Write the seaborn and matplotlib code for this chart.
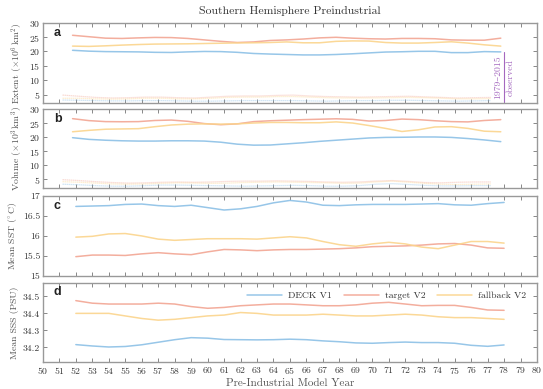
import numpy as np
import pandas as pd
import matplotlib
matplotlib.use("Agg")
import matplotlib.pyplot as plt
import seaborn as sns

# ---------------- data ----------------
runs = ["DECK V1", "target V2", "fallback V2"]
colors = {"DECK V1": "#8cc0e6", "target V2": "#f2a593", "fallback V2": "#fbd48c"}

years_cd = np.arange(52, 79)              # panels c, d
years_ab = np.arange(51.8, 78.0, 1.0)      # panels a, b solid lines
years_ab_min = np.arange(51.2, 77.4, 1.0)  # panels a, b dotted (minimum) lines

ext_deck = [20.4, 20.1, 19.95, 19.9, 19.85, 19.7, 19.65, 19.85, 20.0, 19.95, 19.7, 19.3, 19.1, 18.95,
            18.8, 18.8, 18.95, 19.2, 19.5, 19.8, 19.9, 20.05, 20.05, 19.6, 19.6, 19.95, 19.85]
ext_target = [25.6, 25.1, 24.6, 24.5, 24.7, 24.85, 24.8, 24.5, 24.0, 23.5, 23.1, 23.3, 23.8, 24.0,
              24.3, 24.7, 24.9, 24.6, 24.4, 24.3, 24.5, 24.5, 24.4, 24.0, 23.9, 23.9, 24.6]
ext_fallback = [21.85, 21.75, 21.95, 22.2, 22.4, 22.55, 22.6, 22.65, 22.75, 22.85, 22.95, 23.0, 23.1, 23.3,
                23.0, 23.0, 23.5, 23.65, 23.6, 23.1, 22.9, 22.9, 23.1, 23.35, 22.9, 22.3, 21.85]
ext_min_deck = [3.2, 3.1, 3.0, 2.9, 2.9, 3.0, 3.0, 2.9, 2.8, 2.8, 2.9, 3.0, 3.0, 3.0,
                3.0, 2.9, 2.8, 2.9, 3.0, 3.0, 3.1, 3.1, 3.0, 2.9, 2.8, 2.9, 3.0]
ext_min_target = [4.9, 4.5, 4.1, 3.9, 4.0, 4.2, 4.2, 4.0, 3.9, 4.2, 4.5, 4.6, 4.6, 4.8,
                  4.9, 4.6, 4.4, 4.3, 4.2, 4.3, 4.4, 4.5, 4.3, 4.1, 3.9, 4.0, 4.1]
ext_min_fallback = [3.8, 3.8, 3.6, 3.5, 3.6, 3.8, 3.8, 3.6, 3.6, 3.8, 4.1, 4.2, 4.2, 4.4,
                    4.4, 4.2, 4.0, 3.9, 3.9, 3.9, 4.0, 4.1, 4.0, 3.8, 3.6, 3.6, 3.7]

vol_deck = [19.8, 19.2, 18.9, 18.7, 18.6, 18.6, 18.7, 18.7, 18.6, 18.2, 17.5, 17.15, 17.2, 17.6,
            18.0, 18.5, 18.9, 19.3, 19.7, 19.9, 19.95, 20.05, 20.05, 19.9, 19.5, 19.0, 18.4]
vol_target = [26.55, 25.85, 25.5, 25.45, 25.5, 25.9, 26.05, 25.6, 24.8, 24.4, 24.7, 25.5, 25.8, 26.0,
              26.2, 26.35, 26.5, 26.3, 25.7, 25.9, 26.4, 26.2, 25.8, 25.5, 25.4, 25.9, 26.2]
vol_fallback = [21.9, 22.4, 22.8, 22.9, 23.0, 23.7, 24.3, 24.6, 24.7, 24.6, 24.7, 25.0, 25.2, 25.2,
                25.1, 25.1, 25.4, 25.0, 24.1, 23.1, 22.0, 22.6, 23.6, 23.7, 23.1, 22.1, 21.9]
vol_min_deck = [3.3, 3.1, 2.8, 2.6, 2.6, 2.8, 3.0, 3.0, 2.9, 2.8, 2.7, 2.6, 2.7, 2.8,
                2.9, 2.8, 2.6, 2.6, 2.8, 3.3, 3.5, 3.2, 2.9, 2.7, 2.7, 2.8, 2.8]
vol_min_target = [4.9, 4.6, 4.2, 3.9, 3.7, 3.8, 4.0, 4.1, 4.0, 4.1, 4.3, 4.4, 4.4, 4.5,
                  4.4, 4.3, 4.1, 4.0, 4.1, 4.4, 4.6, 4.3, 3.9, 3.8, 4.0, 4.1, 4.1]
vol_min_fallback = [4.2, 4.0, 3.7, 3.4, 3.3, 3.4, 3.6, 3.8, 3.7, 3.6, 3.7, 3.9, 4.0, 4.1,
                    4.0, 3.9, 3.8, 3.6, 3.7, 4.1, 4.4, 4.0, 3.6, 3.3, 3.2, 3.3, 3.4]

sst_deck = [16.74, 16.75, 16.76, 16.79, 16.80, 16.76, 16.74, 16.77, 16.71, 16.65, 16.68, 16.74, 16.83, 16.89,
            16.85, 16.77, 16.76, 16.78, 16.79, 16.79, 16.79, 16.80, 16.81, 16.78, 16.77, 16.81, 16.84]
sst_target = [15.48, 15.52, 15.52, 15.51, 15.55, 15.58, 15.55, 15.53, 15.60, 15.66, 15.65, 15.63, 15.65, 15.66,
              15.66, 15.67, 15.68, 15.70, 15.73, 15.74, 15.75, 15.77, 15.80, 15.81, 15.77, 15.70, 15.69]
sst_fallback = [15.97, 15.99, 16.05, 16.06, 16.00, 15.92, 15.89, 15.91, 15.93, 15.93, 15.93, 15.92, 15.95, 15.98,
                15.95, 15.86, 15.78, 15.74, 15.80, 15.84, 15.80, 15.72, 15.68, 15.77, 15.86, 15.86, 15.82]

sss_deck = [34.216, 34.208, 34.202, 34.205, 34.215, 34.23, 34.245, 34.257, 34.254, 34.246, 34.245, 34.244, 34.245,
            34.248, 34.245, 34.238, 34.233, 34.226, 34.224, 34.228, 34.231, 34.228, 34.228, 34.224, 34.212, 34.206, 34.214]
sss_target = [34.475, 34.46, 34.455, 34.455, 34.455, 34.46, 34.455, 34.44, 34.43, 34.435, 34.445, 34.45, 34.455,
              34.455, 34.45, 34.445, 34.445, 34.45, 34.46, 34.465, 34.455, 34.445, 34.447, 34.447, 34.435, 34.42, 34.418]
sss_fallback = [34.40, 34.40, 34.40, 34.385, 34.37, 34.36, 34.365, 34.375, 34.385, 34.39, 34.405, 34.40, 34.39,
                34.39, 34.39, 34.395, 34.39, 34.385, 34.385, 34.39, 34.395, 34.39, 34.38, 34.375, 34.375, 34.37, 34.365]

obs_range = [2.6, 19.8]   # observed 1979-2015 range bar (panel a)
obs_year = 78.0

title = "Southern Hemisphere Preindustrial"
ylabels = [r"Extent ($\times 10^6\,$km$^2$)", r"Volume ($\times 10^3\,$km$^3$)",
           r"Mean SST ($^{\circ}$C)", "Mean SSS (PSU)"]
xlabel = "Pre-Industrial Model Year"
panel_letters = ["a", "b", "c", "d"]


def long_df(x, series):
    rows = []
    for run, vals in zip(runs, series):
        for xx, v in zip(x, vals):
            rows.append((xx, v, run))
    return pd.DataFrame(rows, columns=["year", "value", "run"])


# ---------------- style ----------------
sns.set_theme(style="ticks")
plt.rcParams["font.family"] = ["cmr10", "DejaVu Serif"]
plt.rcParams["mathtext.fontset"] = "cm"
plt.rcParams["axes.formatter.use_mathtext"] = True
plt.rcParams["axes.unicode_minus"] = False
tc = "#333333"

fig = plt.figure(figsize=(5.43, 3.89), dpi=100)
L, W = 0.079, 0.910
boxes = [(0.734, 0.208), (0.517, 0.203), (0.291, 0.205), (0.070, 0.203)]
axes = [fig.add_axes([L, b, W, h]) for b, h in boxes]

panels = [
    (years_ab, [ext_deck, ext_target, ext_fallback], [ext_min_deck, ext_min_target, ext_min_fallback]),
    (years_ab, [vol_deck, vol_target, vol_fallback], [vol_min_deck, vol_min_target, vol_min_fallback]),
    (years_cd, [sst_deck, sst_target, sst_fallback], None),
    (years_cd, [sss_deck, sss_target, sss_fallback], None),
]

for i, (ax, (xs, solid, dotted)) in enumerate(zip(axes, panels)):
    sns.lineplot(data=long_df(xs, solid), x="year", y="value", hue="run", hue_order=runs,
                 palette=colors, ax=ax, linewidth=1.1, alpha=0.9, legend=(i == 3),
                 estimator=None, sort=False)
    if dotted is not None:
        sns.lineplot(data=long_df(years_ab_min, dotted), x="year", y="value", hue="run", hue_order=runs,
                     palette=colors, ax=ax, linewidth=0.9, alpha=0.6, linestyle=(0, (0.8, 0.8)),
                     legend=False, estimator=None, sort=False)
    ax.set_xlim(50, 80)
    ax.set_xticks(range(50, 81))
    ax.tick_params(direction="in", length=3, width=0.7, top=True, right=True,
                   labelsize=7, colors="#888888", labelcolor=tc, pad=2)
    for s in ax.spines.values():
        s.set_color("#999999")
        s.set_linewidth(1.0)
    ax.set_ylabel(ylabels[i], fontsize=7, color="#555555", labelpad=3)
    ax.set_xlabel("")
    if i < 3:
        ax.set_xticklabels([])
    ax.text(0.022, 0.84, panel_letters[i], transform=ax.transAxes, fontsize=9,
            fontweight="bold", family="Liberation Sans", color="#222222")

axes[0].set_ylim(2, 30)
axes[0].set_yticks([5, 10, 15, 20, 25, 30])
axes[1].set_ylim(2, 30)
axes[1].set_yticks([5, 10, 15, 20, 25, 30])
axes[2].set_ylim(15, 17)
axes[2].set_yticks([15, 15.5, 16, 16.5, 17])
axes[2].set_yticklabels(["15", "15.5", "16", "16.5", "17"])
axes[3].set_ylim(34.115, 34.58)
axes[3].set_yticks([34.2, 34.3, 34.4, 34.5])
axes[3].set_yticklabels(["34.2", "34.3", "34.4", "34.5"])

# observed range bar in panel a
purple = "#a468bf"
axes[0].plot([obs_year, obs_year], obs_range, color=purple, linewidth=0.8)
axes[0].text(obs_year - 0.12, 11.0, "1979–2015", rotation=90, ha="right", va="center",
             fontsize=7, color=purple)
axes[0].text(obs_year + 0.12, 11.0, "observed", rotation=90, ha="left", va="center",
             fontsize=7, color=purple)

axes[0].set_title(title, fontsize=8.5, color=tc, pad=6)
axes[3].set_xlabel(xlabel, fontsize=8, color="#555555", labelpad=2)

leg = axes[3].legend(loc="upper right", ncol=3, frameon=False, fontsize=7,
                     handlelength=3.6, columnspacing=1.2, handletextpad=0.6,
                     bbox_to_anchor=(0.995, 1.0))
for t in leg.get_texts():
    t.set_color(tc)

fig.savefig("out.png", dpi=100)
